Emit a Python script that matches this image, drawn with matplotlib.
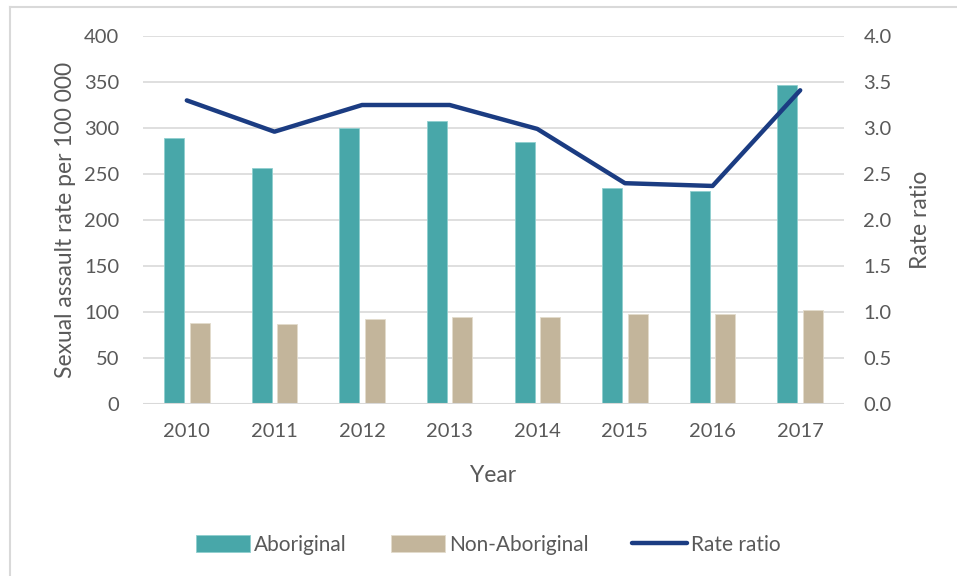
import numpy as np
import matplotlib
matplotlib.use("Agg")
import matplotlib.pyplot as plt
from matplotlib.lines import Line2D

years = ['2010', '2011', '2012', '2013', '2014', '2015', '2016', '2017']
aboriginal = [289, 256, 300, 308, 285, 235, 231, 347]
non_aboriginal = [88, 87, 92, 95, 95, 98, 97.5, 102]
rate_ratio = [3.30, 2.96, 3.25, 3.25, 2.99, 2.40, 2.37, 3.41]

plt.rcParams['font.family'] = ['Lato', 'DejaVu Sans']
txt = '#595959'
grid = '#d9d9d9'

fig = plt.figure(figsize=(9.57, 5.76), dpi=100)
ax = fig.add_axes([143/957, 1 - 404/576, 701/957, 368/576])
ax2 = ax.twinx()

x = np.arange(len(years))
w = 0.228
ax.bar(x - 0.145, aboriginal, w, color='#48a7a9', edgecolor='#8fcfcf', linewidth=0.6,
       label='Aboriginal', zorder=3)
ax.bar(x + 0.145, non_aboriginal, w, color='#c3b59b', edgecolor='#e3dccd', linewidth=0.6,
       label='Non-Aboriginal', zorder=3)
ax2.plot(x, rate_ratio, color='#1b3c82', linewidth=3.2, solid_capstyle='round',
         label='Rate ratio')

ax.set_xlim(-0.5, len(years) - 0.5)
ax.set_ylim(0, 400)
ax.set_yticks(range(0, 401, 50))
ax2.set_ylim(0, 4.0)
ax2.set_yticks(np.arange(0, 4.01, 0.5))
ax2.set_yticklabels([f'{v:.1f}' for v in np.arange(0, 4.01, 0.5)])
ax.set_xticks(x)
ax.set_xticklabels(years)

ax.yaxis.grid(True, color=grid, linewidth=1.2, zorder=0)
ax.set_axisbelow(True)
for a in (ax, ax2):
    for s in ('top', 'right', 'left', 'bottom'):
        a.spines[s].set_visible(False)
    a.tick_params(length=0, labelsize=14.5, colors=txt)
ax.tick_params(axis='y', pad=17)
ax2.tick_params(axis='y', pad=14)
ax.tick_params(axis='x', pad=14)
ax.axhline(0, color=grid, linewidth=1.5, zorder=4)

ax.set_ylabel('Sexual assault rate per 100 000', fontsize=16.5, color=txt, labelpad=6)
ax2.set_ylabel('Rate ratio', fontsize=16.5, color=txt, labelpad=13)
ax.set_xlabel('Year', fontsize=16.5, color=txt, labelpad=18)

h1, l1 = ax.get_legend_handles_labels()
h2, l2 = ax2.get_legend_handles_labels()
fig.legend(h1 + h2, l1 + l2, loc='center', bbox_to_anchor=(0.51, 1 - 545/576), ncol=3,
           frameon=False, fontsize=15, labelcolor=txt, handlelength=2.6,
           handleheight=0.9, handletextpad=0.2, columnspacing=2.1)

# outer chart border
fig.add_artist(Line2D([10/957, 10/957], [0, 1 - 7/576], color='#d9d9d9', linewidth=1.5,
                      transform=fig.transFigure))
fig.add_artist(Line2D([10/957, 1], [1 - 7/576, 1 - 7/576], color='#d9d9d9', linewidth=1.5,
                      transform=fig.transFigure))

fig.savefig('out.png', dpi=100)
